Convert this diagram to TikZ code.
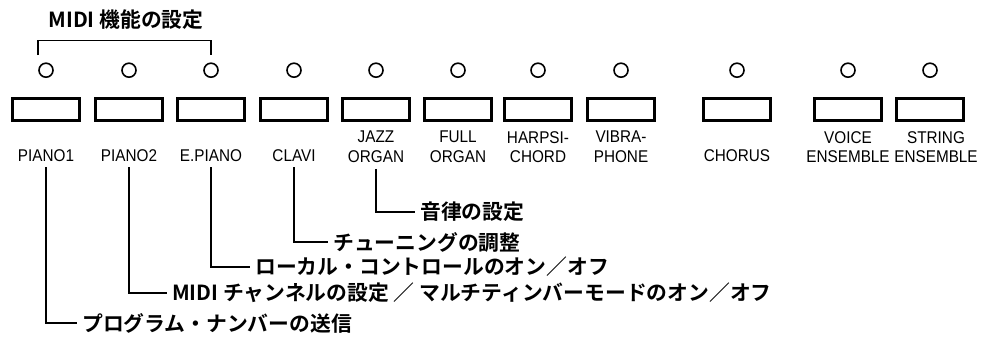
\documentclass[tikz,border=0pt]{standalone}
\usepackage{fontspec}
\usetikzlibrary{positioning}
\setmainfont{Liberation Sans}
\newfontfamily\jpfont[BoldFont={Noto Sans CJK JP Bold}]{Noto Sans CJK JP}
\newfontfamily\lblfont[FakeStretch=0.9]{Liberation Sans}
\tikzstyle{lamp}=[circle, minimum size=14pt, inner sep=0pt, draw=black, line width=1.6pt]
\tikzstyle{key}=[rectangle, minimum width=67pt, minimum height=22pt, draw=black, line width=3pt]
\tikzstyle{keyname}=[inner sep=0pt, align=center, font=\lblfont\fontsize{17}{19.5}\selectfont]
\tikzstyle{func}=[anchor=west, inner sep=0pt, inner xsep=5pt, font=\jpfont\bfseries\fontsize{20.8}{23}\selectfont]
\tikzstyle{lead}=[line width=1.8pt]

\begin{document}
\begin{tikzpicture}[x=1pt, y=-1pt]
            \useasboundingbox (0,0) rectangle (981,343);
            %panel keys, each with its lamp above and its name below
            \foreach \i/\x/\g/\dx/\name in {1/46/27pt/0pt/PIANO1, 2/129/27pt/0pt/PIANO2, 3/211/27pt/0pt/E.PIANO,
                4/294/27pt/0pt/CLAVI, 5/376/9pt/0pt/{JAZZ\\ORGAN}, 6/458/9pt/0pt/{FULL\\ORGAN},
                7/538/9pt/0pt/{HARPSI-\\CHORD}, 8/621/9pt/0pt/{VIBRA-\\PHONE}, 9/737/27pt/0pt/CHORUS,
                10/848/9pt/0pt/{VOICE\\ENSEMBLE}, 11/930/9pt/6pt/{STRING\\ENSEMBLE}}{
                \node[key](k\i) at (\x,109.5){};
                \node[lamp, above = 19pt of k\i](l\i){};
                \node[keyname, below = \g of k\i, xshift=\dx](n\i){\name};
            }
            %MIDI bracket over the first three lamps
            \node[font=\jpfont\bfseries\fontsize{20.8}{23}\selectfont](ttl) at (126,20){MIDI 機能の設定};
            \coordinate (brL) at (38,55);
            \draw[lead](brL) |- ([yshift=22pt]l3.north) -- ([yshift=7pt]l3.north);
            %functions reached with the keys
            \node[func](f5) at (415,212){音律の設定};
            \node[func](f4) at (328,242){チューニングの調整};
            \node[func](f3) at (250,267){ローカル・コントロールのオン／オフ};
            \node[func](f2) at (167,293){MIDI チャンネルの設定 ／ マルチティンバーモードのオン／オフ};
            \node[func](f1) at (77,323){プログラム・ナンバーの送信};
            \foreach \n in {1,...,5}{
                \draw[lead]([yshift=-6pt]n\n.south) |- (f\n.west);
            }
        \end{tikzpicture}
\end{document}
